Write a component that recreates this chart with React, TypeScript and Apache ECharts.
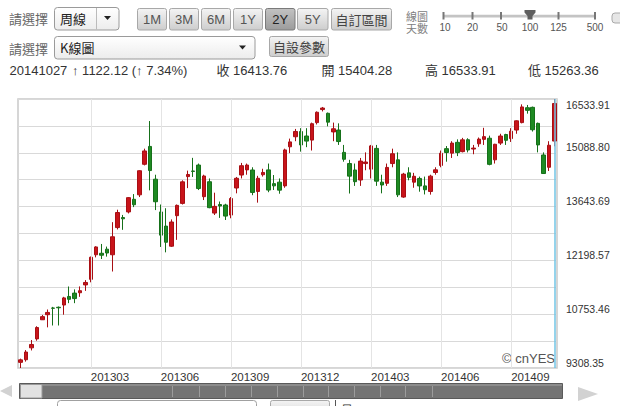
import React, { useEffect, useRef } from 'react';
import * as echarts from 'echarts';

const dates = [
  '20121203','20121210','20121217','20121224','20121231',
  '20130107','20130114','20130121','20130128','20130204','20130211','20130218','20130225',
  '20130304','20130311','20130318','20130325','20130401','20130408','20130415','20130422','20130429',
  '20130506','20130513','20130520','20130527','20130603','20130610','20130617','20130624',
  '20130701','20130708','20130715','20130722','20130729','20130805','20130812','20130819','20130826',
  '20130902','20130909','20130916','20130923','20130930','20131007','20131014','20131021','20131028',
  '20131104','20131111','20131118','20131125','20131202','20131209','20131216','20131223','20131230',
  '20140106','20140113','20140120','20140127','20140203','20140210','20140217','20140224',
  '20140303','20140310','20140317','20140324','20140331','20140407','20140414','20140421','20140428',
  '20140505','20140512','20140519','20140526','20140602','20140609','20140616','20140623','20140630',
  '20140707','20140714','20140721','20140728','20140804','20140811','20140818','20140825',
  '20140901','20140908','20140915','20140922','20140929','20141006','20141013','20141020','20141027'
];

const opens = [
  9460, 9530, 9850, 10090, 10604,
  10740, 10920, 10940, 11000, 11230, 11320, 11330, 11540,
  11690, 12350, 12390, 12500, 12350, 13080, 13350, 13500, 13840,
  13960, 14780, 15260, 14380, 13500, 13120, 12580, 13400,
  13730, 14450, 14600, 14760, 13910, 14312, 13470, 13700, 13687,
  13416, 14143, 14492, 14630, 14627, 14050, 14500, 14630, 14260,
  14300, 14200, 15250, 15520, 15660, 15540, 15430, 15900, 16250,
  16150, 15650, 15700, 15100, 14800, 14627, 14358, 14800,
  14650, 15207, 14300, 14270, 14800, 14900, 13900, 14550, 14300,
  14400, 14200, 14050, 14560, 14750, 15200, 15080, 15370, 15120,
  15440, 15190, 15330, 15450, 15480, 14900, 15350, 15580,
  15470, 15700, 15900, 16300, 16310, 15880, 15030, 14700, 15404.28
];

const closes = [
  9527, 9737, 9940, 10395, 10688,
  10801, 10913, 10926, 11191, 11153, 11173, 11385, 11606,
  12283, 12560, 12338, 12397, 12833, 13485, 13316, 13884, 13694,
  14607, 15138, 14612, 13774, 12877, 12686, 13230, 13677,
  14309, 14506, 14589, 14129, 14466, 13615, 13650, 13660, 13389,
  13860, 14404, 14742, 14760, 14024, 14404, 14561, 14088, 14201,
  14086, 15166, 15382, 15662, 15299, 15403, 15870, 16178, 16291,
  15912, 15734, 15391, 14915, 14462, 14313, 14866, 14841,
  15274, 14327, 14224, 14696, 15063, 13960, 14516, 14429, 14458,
  14199, 14097, 14462, 14632, 15077, 15097, 15349, 15095, 15437,
  15164, 15215, 15457, 15523, 14778, 15318, 15539, 15425,
  15669, 15948, 16321, 16229, 15708, 15300, 14532, 15291.64, 16413.76
];

const lows = [
  9308.35, 9480, 9780, 10040, 10598,
  10400, 10450, 10450, 10740, 11050, 11050, 11220, 11380,
  11610, 12280, 12236, 12300, 11900, 13030, 13020, 13460, 13630,
  13900, 14750, 14080, 13550, 12560, 12415, 12560, 12750,
  13700, 14140, 14440, 14088, 13820, 13600, 13418, 13340, 13284,
  13330, 14000, 14400, 14500, 13950, 13750, 14450, 14030, 14090,
  13990, 14150, 15080, 15400, 15120, 15240, 15150, 15850, 16200,
  15800, 15400, 15300, 14850, 13995, 14200, 14200, 14620,
  14400, 14200, 14000, 14200, 14700, 13900, 13880, 14350, 14150,
  14044, 13970, 13965, 14500, 14700, 14850, 14950, 15000, 15100,
  15100, 15050, 15250, 15300, 14753, 14800, 15300, 15300,
  15380, 15600, 15880, 16140, 15660, 15100, 14529, 14600, 15263.36
];

const highs = [
  9560, 9790, 10060, 10430, 10734,
  10880, 10950, 10960, 11220, 11498, 11420, 11500, 11670,
  12300, 12580, 12640, 12570, 13225, 13560, 13420, 13900, 13980,
  14620, 15200, 15942, 14500, 13700, 13600, 13300, 13700,
  14350, 14610, 14953, 14800, 14500, 14400, 14017, 13780, 13720,
  13900, 14440, 14817, 14800, 14700, 14470, 14660, 14800, 14492,
  14400, 15200, 15470, 15730, 15750, 15750, 15900, 16200, 16320,
  16170, 15900, 15880, 15300, 14900, 14800, 14950, 15100,
  15300, 15300, 14500, 14800, 15200, 15100, 14550, 14700, 14550,
  14450, 14450, 14500, 14700, 15150, 15270, 15400, 15450, 15490,
  15480, 15300, 15500, 15760, 15550, 15330, 15600, 15600,
  15750, 15960, 16390, 16374, 16330, 15900, 15100, 15400, 16533.91
];

const quarterTicks = ['20130304', '20130603', '20130902', '20131202', '20140303', '20140602', '20140901'];
const yTicks = [9308.35, 10753.46, 12198.57, 13643.69, 15088.80, 16533.91];
const yMin = 9308.35;
const yMax = 16533.91;

const rangeButtons = ['1M', '3M', '6M', '1Y', '2Y', '5Y'];
const activeRange = '2Y';
const sliderLabels = ['10', '20', '50', '100', '125', '500'];
const infoItems = [
  '20141027',
  '\u2191 1122.12 (\u2191 7.34%)',
  '收 16413.76',
  '開 15404.28',
  '高 16533.91',
  '低 15263.36'
];

const CJK = '"Noto Sans CJK TC", "Noto Sans CJK SC", sans-serif';
const LAT = '"Liberation Sans", Arial, "Noto Sans CJK TC", sans-serif';

function grad(c1: string, c2: string) {
  return new echarts.graphic.LinearGradient(0, 0, 0, 1, [
    { offset: 0, color: c1 },
    { offset: 1, color: c2 }
  ]);
}

function text(x: number, y: number, t: string, font: string, fill: string, align = 'left', lineHeight?: number) {
  const style: any = { text: t, font, fill, textAlign: align, textVerticalAlign: 'middle' };
  if (lineHeight) style.lineHeight = lineHeight;
  return { type: 'text', x, y, silent: true, style };
}

function buildGraphic() {
  const els: any[] = [];
  // Row 1
  els.push(text(9, 18.5, '請選擇', '13px ' + CJK, '#666'));
  els.push({ type: 'rect', shape: { x: 54.5, y: 7.5, width: 64.5, height: 22.5, r: 3 }, style: { fill: grad('#ffffff', '#ececec'), stroke: '#9a9a9a', lineWidth: 1 }, silent: true });
  els.push({ type: 'line', shape: { x1: 96.5, y1: 8, x2: 96.5, y2: 29.5 }, style: { stroke: '#bbbbbb', lineWidth: 1 }, silent: true });
  els.push({ type: 'polygon', shape: { points: [[104, 16], [111, 16], [107.5, 20]] }, style: { fill: '#222' }, silent: true });
  els.push(text(60, 18.5, '周線', '13px ' + CJK, '#222'));

  const btnX = [137.5, 169.5, 201.5, 233.5, 265.5, 297.5];
  const btnW = [29, 29, 29, 29, 29.5, 30.5];
  rangeButtons.forEach((b, i) => {
    const active = b === activeRange;
    els.push({ type: 'rect', shape: { x: btnX[i], y: 8.5, width: btnW[i], height: 21.5, r: 2 }, style: { fill: active ? grad('#c2c2c2', '#9c9c9c') : grad('#f4f4f4', '#cdcdcd'), stroke: active ? '#7a7a7a' : '#a8a8a8', lineWidth: 1 }, silent: true });
    els.push(text(btnX[i] + btnW[i] / 2, 19.5, b, '13px ' + LAT, active ? '#222' : '#555', 'center'));
  });
  els.push({ type: 'rect', shape: { x: 331.5, y: 8.5, width: 60, height: 21.5, r: 2 }, style: { fill: grad('#f4f4f4', '#cdcdcd'), stroke: '#a8a8a8', lineWidth: 1 }, silent: true });
  els.push(text(361.5, 19.5, '自訂區間', '13px ' + CJK, '#444', 'center'));

  // slider
  els.push(text(406, 16.5, '線圖', '11px ' + LAT, '#808080', 'left', 12));
  els.push(text(406, 29.2, '天數', '11px ' + LAT, '#808080', 'left', 12));
  els.push({ type: 'rect', shape: { x: 443, y: 14.8, width: 153, height: 2.6 }, style: { fill: '#c4c4c4' }, silent: true });
  const tickX = [443.5, 472.5, 501, 530, 558.5, 595];
  const labX = [445, 472.5, 502, 530, 558.5, 595];
  sliderLabels.forEach((l, i) => {
    if (l !== '100') {
      els.push({ type: 'line', shape: { x1: tickX[i], y1: 12, x2: tickX[i], y2: 19.5 }, style: { stroke: '#777', lineWidth: 2 }, silent: true });
    }
    els.push(text(labX[i], 27.5, l, '10px ' + LAT, '#555', 'center', 11));
  });
  els.push({ type: 'polygon', shape: { points: [[524.5, 10], [535.5, 10], [535.5, 12.5], [532.5, 16], [532.5, 19.5], [527.5, 19.5], [527.5, 16], [524.5, 12.5]] }, style: { fill: '#5e5e5e' }, silent: true });
  els.push({ type: 'rect', shape: { x: 612, y: 13, width: 14, height: 10, r: 3 }, style: { fill: '#e6e6e6', stroke: '#a9a9a9', lineWidth: 1 }, silent: true });

  // Row 2
  els.push(text(9, 48, '請選擇', '13px ' + CJK, '#666'));
  els.push({ type: 'rect', shape: { x: 54.5, y: 36.5, width: 200.5, height: 22.5, r: 3 }, style: { fill: grad('#ffffff', '#ececec'), stroke: '#9a9a9a', lineWidth: 1 }, silent: true });
  els.push({ type: 'polygon', shape: { points: [[239, 45.5], [246, 45.5], [242.5, 49.5]] }, style: { fill: '#222' }, silent: true });
  els.push(text(60, 47.5, 'K線圖', '13px ' + CJK, '#222'));
  els.push({ type: 'rect', shape: { x: 269.5, y: 36.5, width: 59, height: 20, r: 2 }, style: { fill: grad('#f4f4f4', '#cdcdcd'), stroke: '#a8a8a8', lineWidth: 1 }, silent: true });
  els.push(text(299, 46.5, '自設參數', '13px ' + CJK, '#444', 'center'));

  // Row 3 info
  const infoX = [9.5, 72, 216.5, 321.5, 425, 528];
  infoItems.forEach((t, i) => els.push(text(infoX[i], 70.5, t, '13px ' + LAT, '#333')));

  // watermark
  els.push(text(555, 358.5, '\u00a9 cnYES', '13px ' + LAT, '#555', 'right'));

  // scrollbar
  els.push({ type: 'polygon', shape: { points: [[0, 391], [12, 385], [12, 397]] }, style: { fill: '#d2d2d2' }, silent: true });
  els.push({ type: 'polygon', shape: { points: [[578, 387], [598, 394], [578, 401]] }, style: { fill: '#d2d2d2' }, silent: true });
  els.push({ type: 'rect', shape: { x: 19.5, y: 383.5, width: 543, height: 15 }, style: { fill: '#747474', stroke: '#5a5a5a', lineWidth: 1 }, silent: true });
  els.push({ type: 'rect', shape: { x: 42, y: 384, width: 520, height: 2 }, style: { fill: '#8c8c8c' }, silent: true });
  const sepX = [172, 199, 225, 251, 277, 303, 328, 354, 380, 405, 432];
  sepX.forEach((x) => els.push({ type: 'line', shape: { x1: x + 0.5, y1: 386, x2: x + 0.5, y2: 397 }, style: { stroke: '#9c9c9c', lineWidth: 1 }, silent: true }));
  els.push({ type: 'rect', shape: { x: 20.5, y: 384.5, width: 21.5, height: 13.5 }, style: { fill: '#e2e2e2', stroke: '#9a9a9a', lineWidth: 1 }, silent: true });

  // bottom partial row (cut off by the window edge, as in the reference)
  els.push({ type: 'rect', shape: { x: 57.5, y: 400.5, width: 199, height: 20, r: 3 }, style: { fill: '#ffffff', stroke: '#a0a0a0', lineWidth: 1 }, silent: true });
  els.push(text(63, 411, '成交量', '13px ' + CJK, '#444'));
  els.push({ type: 'rect', shape: { x: 270.5, y: 400.5, width: 59, height: 20, r: 2 }, style: { fill: grad('#f4f4f4', '#cdcdcd'), stroke: '#a8a8a8', lineWidth: 1 }, silent: true });
  els.push(text(300, 411, '自設參數', '13px ' + CJK, '#444', 'center'));
  els.push({ type: 'line', shape: { x1: 335.5, y1: 400, x2: 335.5, y2: 406 }, style: { stroke: '#555', lineWidth: 1 }, silent: true });
  els.push(text(341, 411, '量 9440  MA5 7039.6  MA10 8444.2  MA20 8679.7', '12px ' + LAT, '#333'));
  return els;
}

export default function App() {
  const ref = useRef<HTMLDivElement>(null);
  useEffect(() => {
    if (!ref.current) return;
    const chart = echarts.init(ref.current, null, { renderer: 'svg' });
    const candleData = dates.map((_, i) => [opens[i], closes[i], lows[i], highs[i]]);
    chart.setOption({
      animation: false,
      backgroundColor: '#ffffff',
      grid: { left: 18, top: 99, right: 63, bottom: 38, show: true, borderColor: '#c9c9c9', borderWidth: 1.5, backgroundColor: 'transparent' },
      xAxis: {
        type: 'category',
        data: dates,
        boundaryGap: true,
        axisLine: { show: false },
        axisTick: { show: false },
        splitLine: { show: false },
        axisLabel: {
          interval: (idx: number, val: string) => quarterTicks.indexOf(val) >= 0,
          formatter: (val: string) => val.slice(0, 6),
          align: 'left',
          margin: 3,
          color: '#333',
          fontSize: 11.5,
          fontFamily: '"Liberation Sans", Arial, sans-serif'
        }
      },
      yAxis: {
        type: 'value',
        position: 'right',
        min: yMin,
        max: yMax,
        interval: (yMax - yMin) / 10,
        scale: true,
        axisLine: { show: false },
        axisTick: { show: false },
        splitLine: { show: true, lineStyle: { color: '#d9d9d9', width: 1 } },
        axisLabel: {
          margin: 9,
          color: '#333',
          fontSize: 10.5,
          fontFamily: '"Liberation Sans", Arial, sans-serif',
          verticalAlign: 'bottom',
          verticalAlignMaxLabel: 'top',
          showMinLabel: true,
          showMaxLabel: true,
          formatter: (v: number) => {
            const t = yTicks.find((k) => Math.abs(k - v) < 1);
            return t !== undefined ? t.toFixed(2) : '';
          }
        }
      },
      series: [
        {
          type: 'line',
          data: [],
          z: 1,
          silent: true,
          markLine: {
            silent: true,
            symbol: ['none', 'none'],
            label: { show: false },
            data: [
              ...quarterTicks.map((d) => ({ xAxis: d, lineStyle: { color: '#e4e4e4', width: 1, type: 'solid' } })),
              { xAxis: dates[dates.length - 1], lineStyle: { color: '#72c4e4', width: 1.5, type: 'solid' } }
            ]
          }
        },
        {
          type: 'candlestick',
          z: 3,
          data: candleData,
          barWidth: 4,
          itemStyle: {
            color: '#c8141a',
            borderColor: '#a80f14',
            color0: '#1e8a22',
            borderColor0: '#16701a',
            borderWidth: 1
          }
        }
      ],
      graphic: buildGraphic()
    });
    return () => chart.dispose();
  }, []);
  return (
    <div
      ref={ref}
      style={{ position: 'absolute', left: 0, top: 0, width: 620, height: 406, overflow: 'hidden', background: '#fff' }}
    />
  );
}
